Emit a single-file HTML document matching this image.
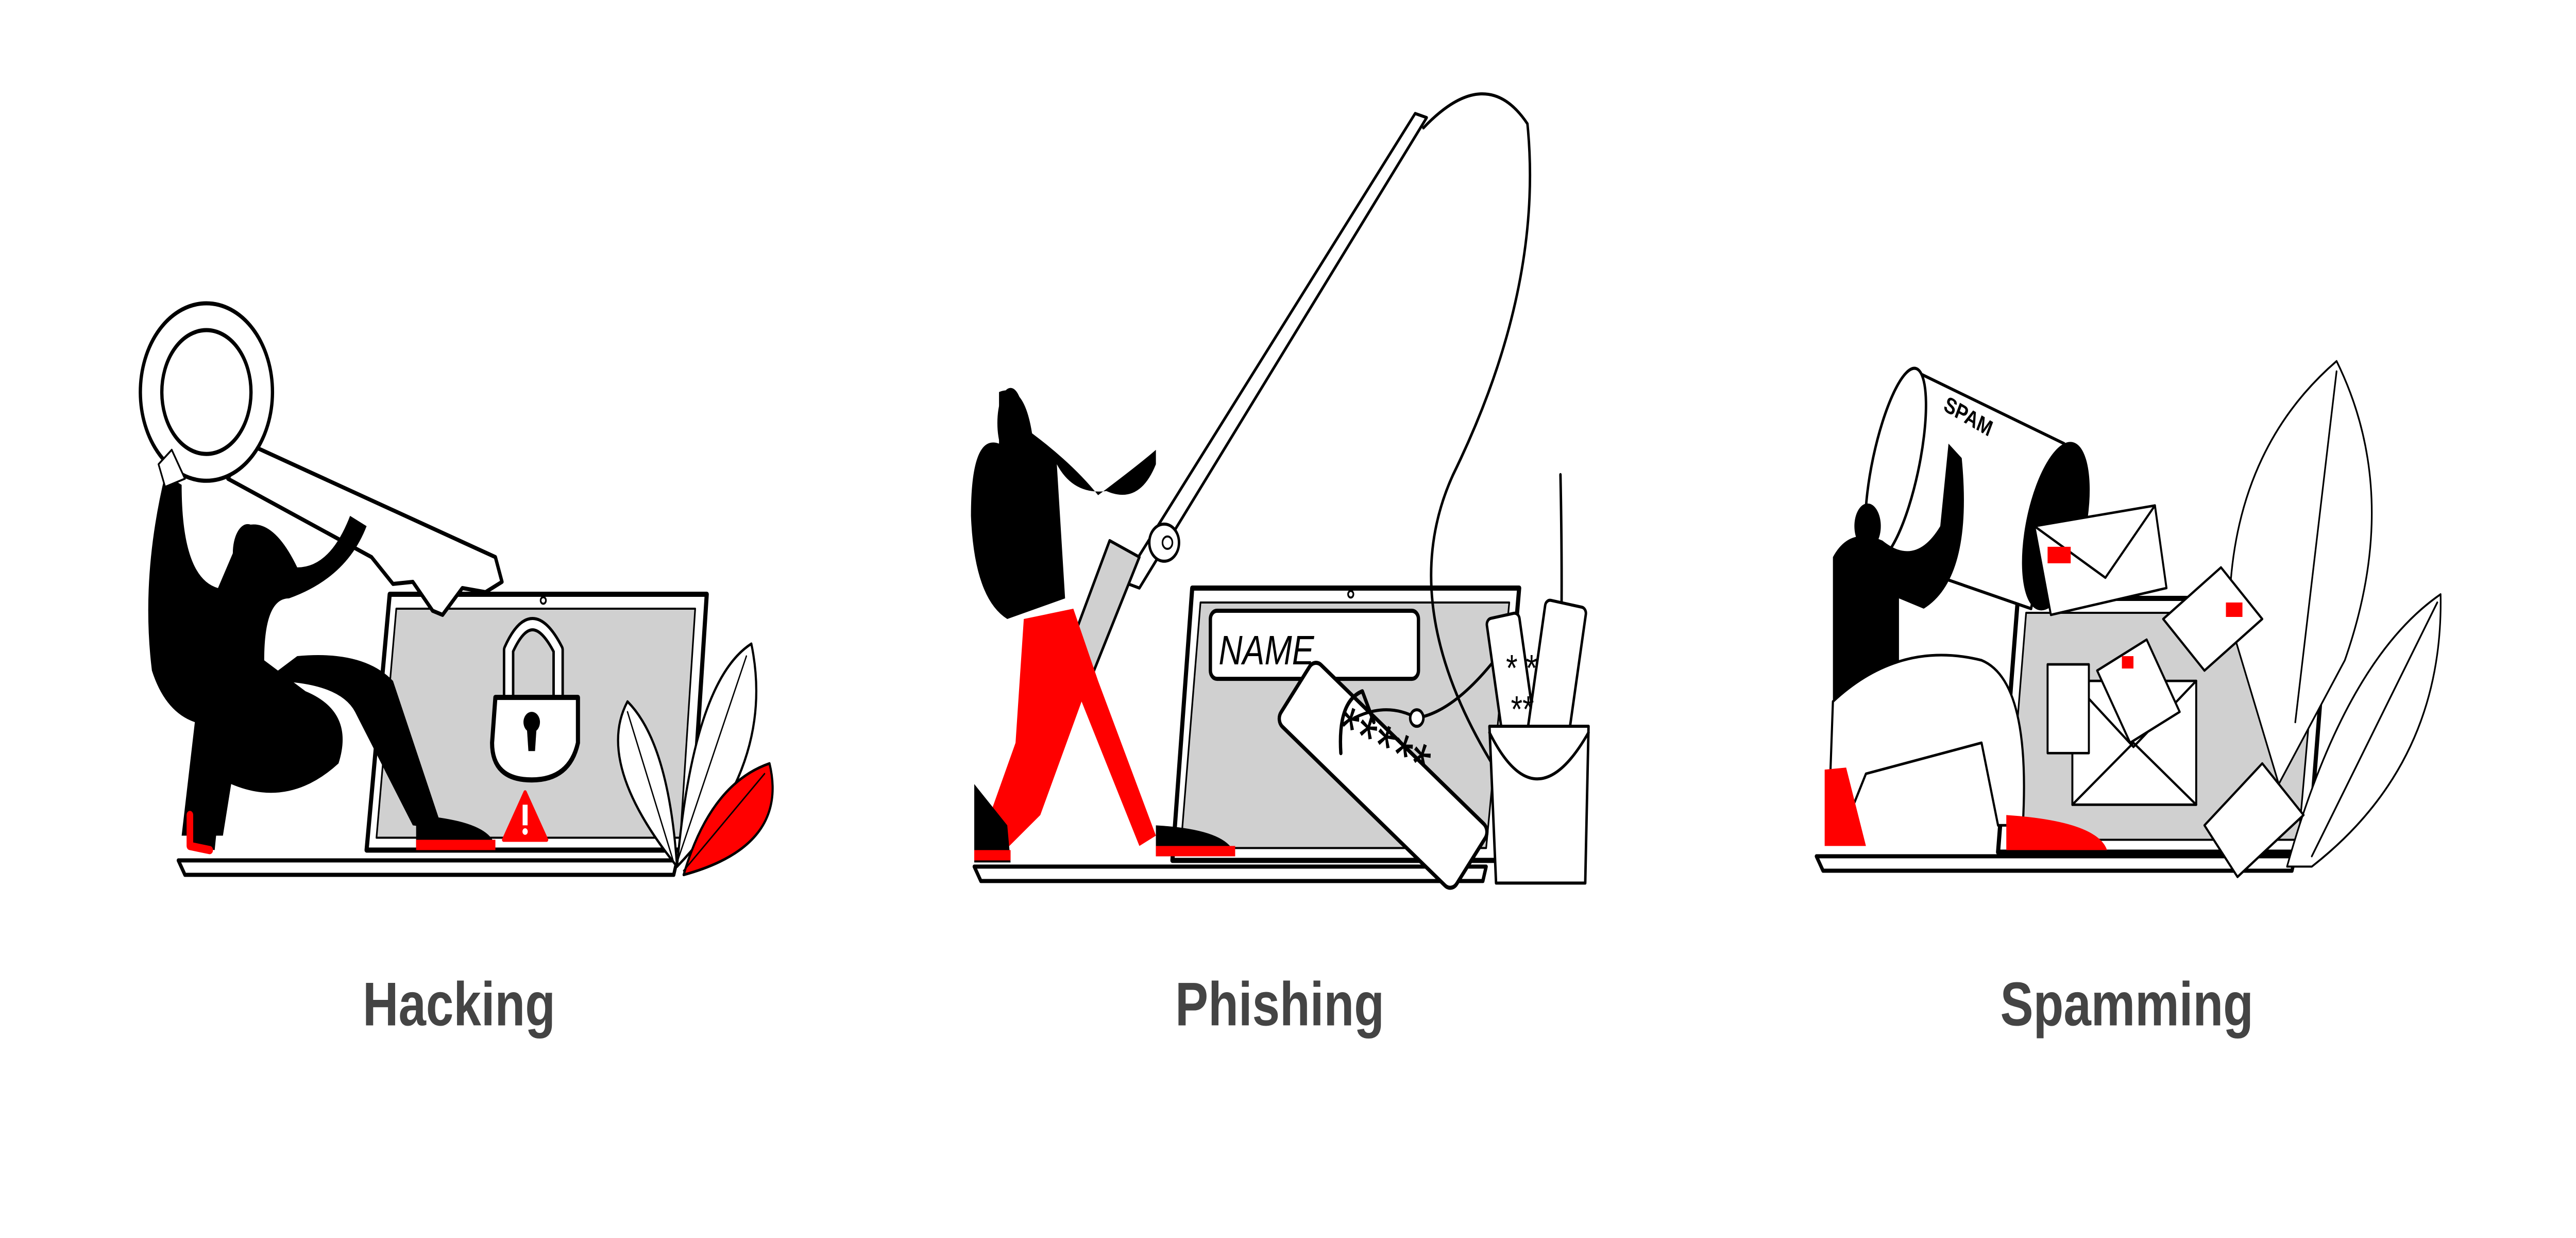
<!DOCTYPE html>
<html><head><meta charset="utf-8"><style>
html,body{margin:0;padding:0;background:#fff;width:100%;height:100%;overflow:hidden;}
svg{display:block;width:100vw;height:100vh;}
text{font-family:"Liberation Sans",sans-serif;}
</style></head><body>
<svg viewBox="0 0 1560 600" preserveAspectRatio="none" xmlns="http://www.w3.org/2000/svg" stroke-linejoin="round" stroke-linecap="round">
<rect width="1560" height="600" fill="#fff"/>

<!-- ============ HACKING ============ -->
<g>
  <g>
    <path d="M108,417 L410,417 L408,424 L112,424 Z" fill="#fff" stroke="#000" stroke-width="2"/>
    <path d="M236,288 L428,288 L418,412 L222,412 Z" fill="#fff" stroke="#000" stroke-width="2.5"/>
    <path d="M240,295 L421,295 L412,406 L228,406 Z" fill="#d0d0d0" stroke="#000" stroke-width="1"/>
    <circle cx="329" cy="291" r="1.6" fill="none" stroke="#000"/>
  </g>
  <g>
    <path d="M308,340 L308,315 Q322,290 338,315 L338,340" fill="none" stroke="#000" stroke-width="7"/>
    <path d="M308,340 L308,315 Q322,290 338,315 L338,340" fill="none" stroke="#fff" stroke-width="4"/>
    <path d="M300,338 L350,338 L350,360 Q345,378 322,378 Q298,378 298,360 Z" fill="#fff" stroke="#000" stroke-width="2.5"/>
    <circle cx="322" cy="350" r="5" fill="#000"/><path d="M319,352 L325,352 L324,364 L320,364 Z" fill="#000"/>
  </g>
  <g>
    <path d="M318,384 L331,407 L305,407 Z" fill="#f00" stroke="#f00" stroke-width="2"/>
    <rect x="316.5" y="390" width="3" height="10" fill="#fff"/><circle cx="318" cy="403" r="1.6" fill="#fff"/>
  </g>
  <g>
    <path d="M410,420 Q360,370 380,340 Q405,360 410,420 Z" fill="#fff" stroke="#000" stroke-width="1.3"/>
    <path d="M410,420 Q420,330 455,312 Q470,370 410,420 Z" fill="#fff" stroke="#000" stroke-width="1.3"/>
    <path d="M414,424 Q430,380 466,370 Q478,410 414,424 Z" fill="#f00" stroke="#000" stroke-width="1.3"/>
    <path d="M414,422 L463,375 M410,418 L452,318 M408,418 L380,345" stroke="#000" stroke-width="0.8"/>
  </g>
  <g>
    <path d="M150,215 L300,270 L304,282 L294,287 L280,285 L268,298 L262,296 L250,282 L238,283 L225,270 L138,232 Z" fill="#fff" stroke="#000" stroke-width="2"/>
    <ellipse cx="125" cy="190" rx="40" ry="43" fill="#fff" stroke="#000" stroke-width="2"/>
    <ellipse cx="125" cy="190" rx="27" ry="30" fill="#fff" stroke="#000" stroke-width="2"/>
  </g>
  <g>
    <path d="M100,230 Q85,280 92,325 Q100,345 118,350 L110,405 L135,405 L140,380 Q175,392 205,370 Q215,345 185,335 L160,320 Q160,290 175,290 Q210,280 222,255 L212,250 Q200,275 180,275 Q165,250 148,255 Q140,270 132,285 Q110,280 110,235 Z" fill="#000"/>
    <path d="M160,330 Q205,330 215,345 L250,400 L268,402 L238,330 Q220,315 180,318 Z" fill="#000"/>
    <ellipse cx="150" cy="268" rx="9" ry="14" fill="#000"/>
    <path d="M118,378 L115,410 L130,412 L134,380 Z" fill="#000"/><path d="M115,395 L115,410 L127,412" fill="none" stroke="#f00" stroke-width="4"/>
    <path d="M252,395 Q300,398 300,412 L252,412 Z" fill="#000"/><rect x="252" y="407" width="48" height="5" fill="#f00"/>
    <path d="M96,225 L104,218 L112,232 L100,236 Z" fill="#fff" stroke="#000"/>
  </g>
  <text x="278" y="497" text-anchor="middle" font-size="30" font-weight="bold" fill="#444">Hacking</text>
</g>

<!-- ============ PHISHING ============ -->
<g>
  <g>
    <path d="M590,420 L900,420 L898,427 L594,427 Z" fill="#fff" stroke="#000" stroke-width="2"/>
    <path d="M722,285 L920,285 L906,417 L710,417 Z" fill="#fff" stroke="#000" stroke-width="2.5"/>
    <path d="M727,292 L914,292 L900,411 L715,411 Z" fill="#d0d0d0" stroke="#000" stroke-width="1"/>
    <circle cx="818" cy="288" r="1.6" fill="none" stroke="#000"/>
  </g>
  <g>
    <rect x="733" y="296" width="126" height="33" rx="4" fill="#fff" stroke="#000" stroke-width="2"/>
    <text x="738" y="322" font-size="20" font-style="italic" fill="#000">NAME</text>
  </g>
  <g transform="rotate(38 835 375)">
    <rect x="770" y="355" width="135" height="38" rx="5" fill="#fff" stroke="#000" stroke-width="2"/>
  </g>
  <text x="798" y="375" font-size="30" fill="#000" transform="rotate(22 840 390)">*****</text>
  <g fill="none" stroke="#000" stroke-width="1.5">
    <path d="M862,62 Q900,30 925,60 Q935,140 880,230 Q840,300 920,390 Q950,430 945,230"/>
    <path d="M820,348 Q840,340 858,348 Q880,345 905,320"/>
    <circle cx="858" cy="348" r="4" fill="#fff"/>
    <path d="M812,365 Q810,340 825,335 L832,350" stroke-width="2"/>
  </g>
  <g>
    <rect x="905" y="298" width="20" height="60" rx="3" fill="#fff" stroke="#000" stroke-width="1.5" transform="rotate(-10 915 328)"/>
    <rect x="930" y="292" width="25" height="70" rx="3" fill="#fff" stroke="#000" stroke-width="1.5" transform="rotate(10 942 327)"/>
    <text x="912" y="330" font-size="18" fill="#000">* *</text><text x="915" y="350" font-size="18" fill="#000">**</text>
    <path d="M902,352 L962,352 L960,428 L906,428 Z" fill="#fff" stroke="#000" stroke-width="1.5"/>
    <path d="M902,355 Q930,400 962,355" fill="none" stroke="#000" stroke-width="1.5"/>
  </g>
  <g>
    <path d="M857,55 L864,57 L690,285 L680,282 Z" fill="#fff" stroke="#000" stroke-width="1.5"/>
    <path d="M690,270 L660,330 L645,320 L672,262 Z" fill="#d0d0d0" stroke="#000" stroke-width="1.5"/>
    <circle cx="705" cy="263" r="9" fill="#fff" stroke="#000" stroke-width="1.5"/><circle cx="707" cy="263" r="3" fill="none" stroke="#000"/>
  </g>
  <g>
    <path d="M605,190 Q620,185 625,210 Q650,225 665,240 Q690,225 700,218 L700,225 Q690,245 670,238 Q650,240 640,225 L645,290 L610,300 Q590,290 588,250 Q588,210 605,215 Z" fill="#000"/>
    <ellipse cx="612" cy="205" rx="8" ry="17" fill="#000"/>
    <path d="M620,300 L650,295 L665,330 L700,405 L690,410 L655,340 L630,395 L605,415 L595,405 L615,360 Z" fill="#f00"/>
    <path d="M590,380 L590,418 L612,418 L610,400 Z" fill="#000"/><rect x="590" y="412" width="22" height="5" fill="#f00"/>
    <path d="M700,400 Q745,402 748,415 L700,415 Z" fill="#000"/><rect x="700" y="410" width="48" height="5" fill="#f00"/>
  </g>
  <text x="775" y="497" text-anchor="middle" font-size="30" font-weight="bold" fill="#444">Phishing</text>
</g>

<!-- ============ SPAMMING ============ -->
<g>
  <g>
    <path d="M1100,415 L1390,415 L1388,422 L1104,422 Z" fill="#fff" stroke="#000" stroke-width="2"/>
    <path d="M1222,290 L1410,290 L1398,413 L1210,413 Z" fill="#fff" stroke="#000" stroke-width="2.5"/>
    <path d="M1227,297 L1404,297 L1392,407 L1216,407 Z" fill="#d0d0d0" stroke="#000" stroke-width="1"/>
  </g>
  <g fill="#fff" stroke="#000" stroke-width="1">
    <path d="M1350,300 Q1350,220 1415,175 Q1455,240 1420,320 L1380,380 Z"/>
    <path d="M1385,420 Q1420,320 1478,288 Q1480,370 1400,420 Z"/>
    <path d="M1415,180 L1390,350 M1476,292 L1400,415" />
  </g>
  <g>
    <path d="M1160,180 L1250,215 L1230,295 L1140,270 Z" fill="#fff" stroke="#000" stroke-width="1.5"/>
    <ellipse cx="1148" cy="225" rx="14" ry="48" fill="#fff" stroke="#000" stroke-width="1.5" transform="rotate(15 1148 225)"/>
    <ellipse cx="1245" cy="255" rx="18" ry="42" fill="#000" transform="rotate(15 1245 255)"/>
    <text x="1175" y="205" font-size="11" font-weight="bold" fill="#000" transform="rotate(25 1190 205)">SPAM</text>
  </g>
  <g fill="#fff" stroke="#000" stroke-width="1.2">
    <path d="M1232,255 L1305,245 L1312,285 L1242,298 Z"/><path d="M1232,255 L1275,280 L1305,245" fill="none"/>
    <rect x="1240" y="265" width="14" height="8" fill="#f00" stroke="none"/>
    <path d="M1255,330 L1330,330 L1330,390 L1255,390 Z"/><path d="M1255,330 L1292,362 L1330,330 M1255,390 L1292,360 L1330,390" fill="none"/>
    <path d="M1310,300 L1345,275 L1370,300 L1335,325 Z"/><rect x="1348" y="292" width="10" height="7" fill="#f00" stroke="none"/>
    <path d="M1270,325 L1300,310 L1320,345 L1290,360 Z"/><rect x="1285" y="318" width="7" height="6" fill="#f00" stroke="none"/>
    <path d="M1240,322 L1265,322 L1265,365 L1240,365 Z"/>
    <path d="M1335,400 L1370,370 L1395,395 L1355,425 Z"/>
  </g>
  <g>
    <path d="M1110,270 Q1120,255 1140,262 Q1160,275 1175,255 L1180,215 L1188,222 Q1195,280 1165,295 L1150,290 L1150,320 L1110,340 Z" fill="#000"/>
    <ellipse cx="1131" cy="255" rx="8" ry="11" fill="#000"/>
    <path d="M1110,340 Q1150,310 1200,320 Q1230,330 1225,400 L1210,400 L1200,360 L1130,375 L1120,395 L1108,385 Z" fill="#fff" stroke="#000" stroke-width="1.3"/>
    <path d="M1105,373 L1118,372 L1130,410 L1105,410 Z" fill="#f00"/>
    <path d="M1215,395 Q1270,398 1276,412 L1215,412 Z" fill="#f00"/>
  </g>
  <text x="1288" y="497" text-anchor="middle" font-size="30" font-weight="bold" fill="#444">Spamming</text>
</g>
</svg>
</body></html>
